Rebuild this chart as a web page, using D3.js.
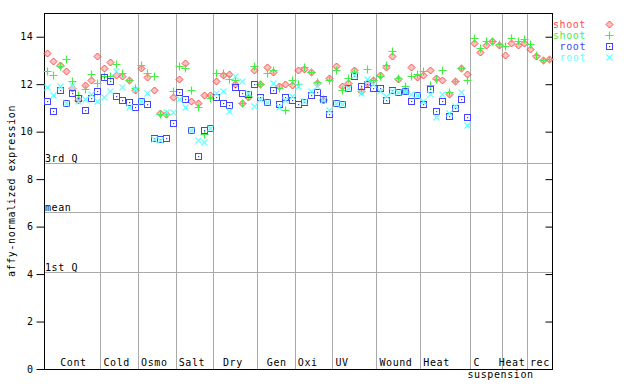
<!DOCTYPE html>
<html><head><meta charset="utf-8">
<script src="https://cdn.jsdelivr.net/npm/d3@7"></script>
<style>
body{margin:0;background:#fff}
text{font-family:"DejaVu Sans Mono",monospace;font-size:10px;letter-spacing:0.6px;white-space:pre}
</style>
</head><body><svg id="c" width="640" height="384"></svg>
<script>
const groupNames = ["  Cont","Cold","Osmo","Salt"," Dry"," Gen","Oxi","UV","Wound","Heat","C","Heat","rec"];
const groupSubLabels = ["","","","","","","","","","","suspension","",""];
const groupSizes = [9,6,6,6,7,6,6,7,7,8,5,4,4];
const seriesNames = ["shoot","shoot","root","root"];
const shootRed = [13.31,12.98,12.82,12.57,11.82,11.35,11.96,12.19,13.19,
  12.68,12.93,12.40,12.33,12.18,11.75,
  12.68,12.30,11.75,10.77,10.75,11.46,
  12.22,12.91,11.30,11.21,11.54,11.54,
  12.15,12.40,12.44,12.00,11.21,11.46,12.60,
  12.00,12.72,12.52,11.91,12.02,11.96,
  12.60,12.64,12.52,12.05,11.35,12.27,
  12.78,11.93,12.05,12.58,11.73,12.05,12.16,
  12.40,12.72,13.18,12.24,11.70,12.72,12.30,
  12.40,12.61,12.26,12.19,11.60,12.13,12.68,12.44,
  13.73,13.35,13.66,13.84,13.65,
  13.21,13.73,13.65,13.73,
  13.49,13.18,13.03,13.07];
const shootGreen = [12.55,12.39,12.77,13.06,12.15,11.53,11.80,12.44,12.05,
  12.33,12.33,12.86,12.47,12.18,11.84,
  12.82,12.47,12.34,10.75,10.75,11.70,
  12.78,12.69,11.75,11.03,9.92,11.40,
  12.46,12.46,12.22,12.16,11.19,11.50,12.78,
  12.02,12.47,12.61,11.86,10.92,12.18,
  12.02,12.71,12.52,12.10,11.37,12.19,
  12.58,11.75,12.26,12.50,11.78,12.64,12.19,
  12.36,12.83,13.40,12.27,11.91,12.36,12.44,
  12.54,11.95,12.21,12.60,11.68,12.15,12.68,12.18,
  13.94,13.51,13.84,13.84,13.70,
  13.62,13.94,13.82,13.90,
  13.69,13.22,13.03,13.05];
const rootBlue = [11.30,10.87,11.75,11.21,11.63,11.43,10.91,11.42,11.71,
  12.30,12.13,11.50,11.33,11.25,11.04,
  11.30,11.16,9.73,9.70,9.73,10.36,
  11.67,11.37,10.05,8.97,10.06,10.17,
  11.46,11.22,11.12,11.88,11.63,11.60,12.00,
  11.46,11.25,11.77,11.16,11.46,11.33,
  11.16,11.25,11.54,11.68,11.39,10.75,
  11.21,11.15,11.82,12.36,11.91,12.00,11.85,
  11.82,11.33,11.77,11.66,11.70,11.30,11.56,
  11.15,11.79,10.87,11.30,10.64,10.99,11.37,10.61,
  null,null,null,null,null,null,null,null,null,null,null,null,null];
const rootCyan = [11.88,11.54,11.94,11.21,11.95,11.29,11.39,11.59,11.29,
  11.46,11.71,12.54,11.90,11.04,11.80,
  11.30,11.64,9.70,9.65,10.84,10.82,
  11.37,11.03,10.05,9.63,9.55,10.17,
  11.63,11.71,10.86,12.33,12.13,11.63,11.08,
  11.37,11.25,12.05,11.06,11.35,11.52,
  11.93,11.28,11.71,11.91,11.33,10.92,
  11.21,11.15,11.82,12.38,11.64,12.22,12.02,
  11.70,11.52,11.71,11.66,11.71,11.58,11.56,
  11.30,11.60,10.63,11.60,10.78,11.08,11.68,10.27,
  null,null,null,null,null,null,null,null,null,null,null,null,null];
const refLineLabels = ["3rd Q","mean","1st Q"];
const refLineValues = [8.67, 6.61, 4.08];
const yTickValues = [0,2,4,6,8,10,12,14];

const series = [
  {name: seriesNames[0], values: shootRed, color: "#ff4c4c", shape: "diamond"},
  {name: seriesNames[1], values: shootGreen, color: "#44ee44", shape: "plus"},
  {name: seriesNames[2], values: rootBlue, color: "#4444ff", shape: "square"},
  {name: seriesNames[3], values: rootCyan, color: "#66ffff", shape: "cross"}
];

const W = 640, H = 384;
const L = 44, R = 552, T = 13, B = 369;
const nSamples = d3.sum(groupSizes);
const svg = d3.select("#c");
const x = d3.scaleLinear().domain([0, nSamples]).range([L, R]);
const y = d3.scaleLinear().domain([0, 15]).range([B, T]);
const grid = "#aaaaaa";

// group dividers
const bounds = d3.cumsum(groupSizes);
const starts = [0, ...bounds.slice(0, -1)];
svg.append("g").selectAll("line").data(bounds.slice(0, -1)).join("line")
  .attr("x1", d => Math.round(x(d)) + 0.5).attr("x2", d => Math.round(x(d)) + 0.5)
  .attr("y1", T).attr("y2", B).attr("stroke", grid);

// reference lines
const rg = svg.append("g");
rg.selectAll("line").data(refLineValues).join("line")
  .attr("x1", L).attr("x2", R)
  .attr("y1", d => Math.round(y(d)) + 0.5).attr("y2", d => Math.round(y(d)) + 0.5)
  .attr("stroke", grid);
rg.selectAll("text").data(refLineLabels).join("text")
  .attr("x", L + 1).attr("y", (d, i) => Math.round(y(refLineValues[i])) - 1)
  .text(d => d);

// group labels
const lg = svg.append("g");
lg.selectAll("text.g").data(groupNames).join("text").attr("class", "g")
  .attr("x", (d, i) => x(starts[i]) + 3 + (i === 11 ? -6 : 0))
  .attr("y", B - 3)
  .text(d => d);
lg.selectAll("text.s").data(groupSubLabels).join("text").attr("class", "s")
  .attr("x", (d, i) => x(starts[i]) - 3)
  .attr("y", B + 9)
  .text(d => d);

// frame
svg.append("rect").attr("x", L + 0.5).attr("y", T + 0.5).attr("width", R - L).attr("height", B - T)
  .attr("fill", "none").attr("stroke", "#000");

// axes
const ya = svg.append("g").attr("transform", `translate(${L + 0.5},0)`)
  .call(d3.axisLeft(y).tickValues(yTickValues).tickSize(8).tickPadding(3).tickFormat(d3.format("d")));
ya.select(".domain").remove();
ya.selectAll(".tick line").attr("stroke", "#000");
ya.selectAll("text").attr("font-family", null).attr("font-size", null).attr("fill", "#000");
const ra = svg.append("g").attr("transform", `translate(${R + 0.5},0)`)
  .call(d3.axisRight(y).tickValues(yTickValues).tickSize(-7).tickFormat(""));
ra.select(".domain").remove();
ra.selectAll(".tick line").attr("stroke", "#000");

svg.append("text").attr("transform", `translate(15,${(T + B) / 2}) rotate(-90)`)
  .attr("text-anchor", "middle").text("affy-normalized expression");

// marker drawing
function marker(g, shape, color) {
  if (shape === "diamond") {
    g.append("path").attr("d", "M0,-3.5L3.5,0L0,3.5L-3.5,0Z").attr("fill", color).attr("fill-opacity", 0.35)
      .attr("stroke", color).attr("stroke-width", 1);
  } else if (shape === "plus") {
    g.append("path").attr("d", "M-4,0H4M0,-4V4").attr("stroke", color).attr("stroke-width", 1.2).attr("fill", "none");
  } else if (shape === "square") {
    g.append("rect").attr("x", -3).attr("y", -3).attr("width", 6).attr("height", 6)
      .attr("fill", "none").attr("stroke", color).attr("stroke-width", 1);
    g.append("rect").attr("x", -0.5).attr("y", -0.5).attr("width", 1.2).attr("height", 1.2).attr("fill", color);
  } else {
    g.append("path").attr("d", "M-3,-3L3,3M-3,3L3,-3").attr("stroke", color).attr("stroke-width", 1.1).attr("fill", "none");
  }
}

const pg = svg.append("g");
series.forEach(s => {
  s.values.forEach((v, i) => {
    if (v == null) return;
    const g = pg.append("g").attr("transform", `translate(${Math.round(x(i + 0.5)) + 0.5},${Math.round(y(v)) + 0.5})`);
    marker(g, s.shape, s.color);
  });
});

// legend
const leg = svg.append("g");
series.forEach((s, i) => {
  const yy = 24 + i * 11;
  leg.append("text").attr("x", 586).attr("y", yy + 4).attr("text-anchor", "end")
    .attr("fill", s.color).text(s.name);
  const g = leg.append("g").attr("transform", `translate(609.5,${yy + 0.5})`);
  marker(g, s.shape, s.color);
});
</script>
</body></html>
